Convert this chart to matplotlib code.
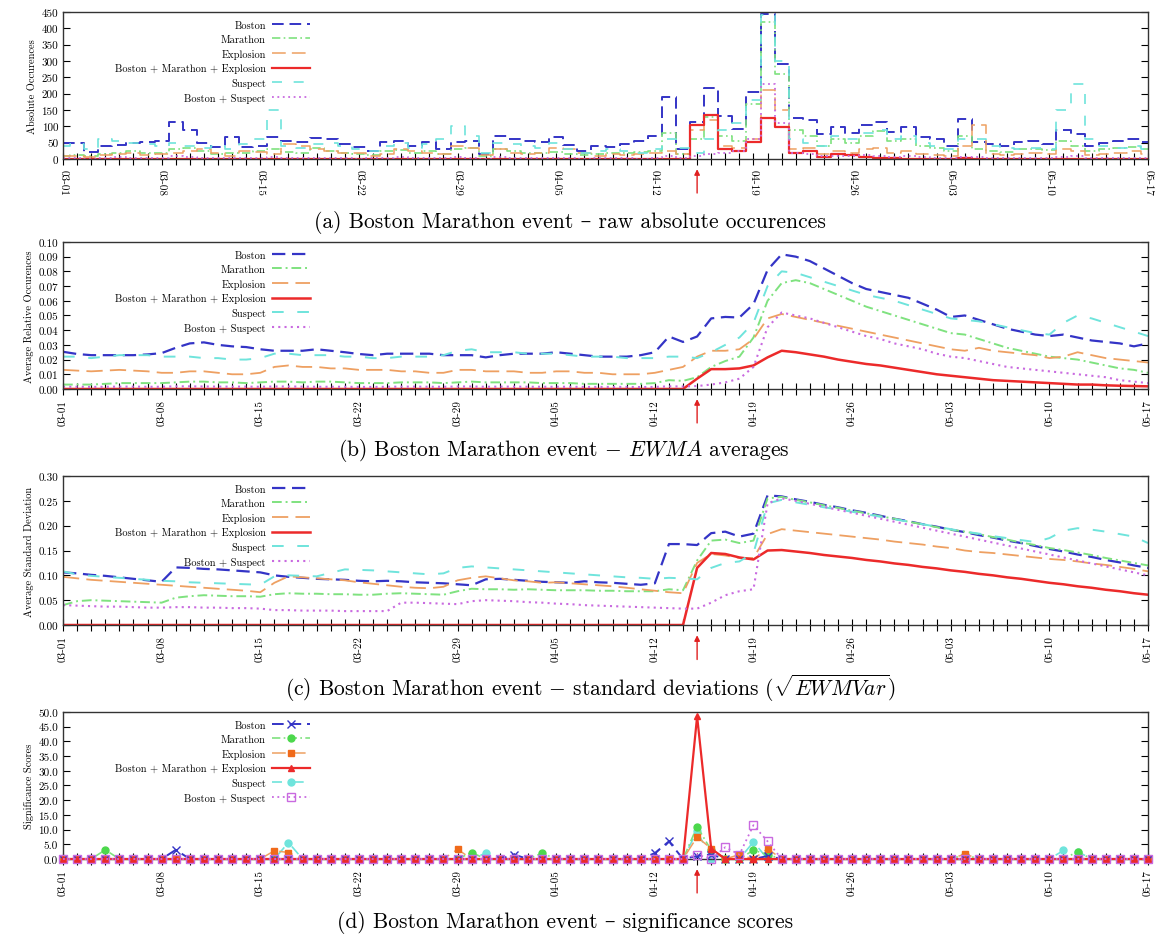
import matplotlib
matplotlib.use('Agg')
import matplotlib.pyplot as plt
import numpy as np
import pandas as pd

plt.rcParams['font.family'] = ['cmr10', 'DejaVu Serif']
plt.rcParams['mathtext.fontset'] = 'cm'
plt.rcParams['axes.formatter.use_mathtext'] = True

dates = pd.date_range('2013-03-01', '2013-05-17')
tick_labels = ['03-01', '03-08', '03-15', '03-22', '03-29', '04-05', '04-12',
               '04-19', '04-26', '05-03', '05-10', '05-17']
event_date = '04-15'

names = ['Boston', 'Marathon', 'Explosion', 'Boston + Marathon + Explosion',
         'Suspect', 'Boston + Suspect']

# (a) raw absolute occurences
boston_raw = [49, 49, 22, 39, 43, 49, 51, 56, 112, 89,
              49, 36, 66, 36, 41, 66, 56, 51, 63, 61,
              46, 36, 26, 51, 56, 41, 51, 31, 51, 56,
              15, 70, 61, 56, 53, 66, 44, 24, 41, 38,
              46, 56, 71, 191, 31, 112, 216, 132, 92, 204,
              445, 290, 127, 120, 76, 97, 81, 104, 114, 83,
              97, 68, 61, 41, 122, 51, 46, 41, 51, 56,
              46, 90, 76, 41, 48, 56, 61, 51]
marathon_raw = [10, 12, 8, 15, 20, 25, 18, 20, 30, 35,
                25, 15, 20, 18, 25, 30, 22, 20, 35, 25,
                20, 15, 12, 25, 28, 20, 25, 15, 30, 35,
                10, 30, 25, 20, 18, 22, 15, 12, 15, 18,
                20, 22, 25, 80, 15, 60, 130, 70, 55, 170,
                420, 260, 90, 70, 40, 60, 50, 70, 85, 55,
                60, 40, 35, 25, 70, 30, 25, 22, 30, 32,
                28, 55, 40, 25, 30, 35, 38, 30]
explosion_raw = [8, 10, 5, 12, 15, 20, 12, 15, 20, 25,
                 30, 20, 10, 25, 22, 15, 45, 40, 30, 25,
                 20, 18, 10, 15, 30, 25, 20, 15, 40, 35,
                 12, 30, 20, 15, 18, 35, 30, 20, 10, 15,
                 12, 15, 20, 25, 15, 90, 120, 40, 35, 60,
                 210, 150, 30, 35, 15, 25, 20, 30, 35, 20,
                 25, 15, 12, 10, 40, 105, 15, 12, 15, 18,
                 15, 30, 25, 12, 15, 20, 25, 15]
bme_raw = [0, 0, 0, 0, 0, 0, 0, 0, 0, 0,
           0, 0, 0, 0, 0, 0, 0, 0, 0, 0,
           0, 0, 0, 0, 0, 0, 0, 0, 0, 0,
           0, 0, 0, 0, 0, 0, 0, 0, 0, 0,
           0, 0, 0, 0, 0, 105, 135, 31, 25, 51,
           127, 97, 20, 25, 5, 15, 12, 5, 3, 2,
           1, 0, 0, 0, 2, 1, 0, 0, 0, 0,
           0, 1, 0, 0, 0, 0, 0, 0]
suspect_raw = [40, 45, 30, 60, 55, 50, 45, 40, 50, 40,
               35, 40, 30, 45, 60, 150, 40, 35, 45, 50,
               40, 30, 25, 40, 50, 35, 45, 60, 100, 70,
               20, 50, 45, 40, 35, 50, 30, 20, 25, 30,
               25, 20, 30, 60, 35, 20, 60, 90, 110, 180,
               440, 300, 60, 50, 40, 70, 60, 80, 90, 60,
               70, 50, 40, 30, 60, 60, 40, 35, 30, 35,
               30, 150, 230, 60, 40, 35, 40, 30]
bs_raw = [3, 2, 1, 4, 5, 3, 2, 4, 8, 6,
          3, 2, 4, 3, 2, 6, 4, 3, 2, 3,
          2, 1, 2, 4, 5, 3, 2, 3, 6, 4,
          1, 5, 3, 2, 2, 4, 3, 1, 2, 2,
          2, 1, 3, 8, 2, 10, 15, 20, 25, 60,
          230, 110, 20, 15, 8, 10, 8, 12, 10, 6,
          8, 5, 4, 3, 6, 5, 3, 3, 2, 3,
          2, 6, 8, 3, 2, 2, 3, 2]

# (b) EWMA averages
boston_avg = [.0253, .0238, .023, .023, .023, .023, .0235, .0244, .028, .031,
              .0317, .030, .029, .0285, .027, .026, .026, .026, .027, .026,
              .025, .0238, .023, .024, .024, .024, .024, .023, .023, .023,
              .0215, .023, .024, .024, .024, .025, .024, .023, .022, .022,
              .022, .023, .025, .0357, .032, .0357, .048, .049, .0486, .0577,
              .081, .0916, .090, .087, .082, .077, .072, .068, .066, .064,
              .062, .058, .054, .049, .050, .047, .044, .041, .039, .037,
              .036, .037, .035, .033, .032, .031, .029, .031]
marathon_avg = [.003, .003, .003, .0035, .004, .004, .004, .004, .0045, .005,
                .005, .0045, .0045, .004, .0045, .005, .005, .0045, .005, .005,
                .0045, .004, .004, .004, .0045, .0045, .0045, .004, .0045, .005,
                .0045, .0045, .0045, .0045, .004, .004, .004, .0035, .0035, .0035,
                .0035, .0035, .004, .006, .0055, .008, .015, .019, .022, .035,
                .060, .072, .074, .072, .068, .064, .060, .056, .053, .050,
                .047, .044, .041, .038, .037, .034, .031, .028, .026, .024,
                .022, .021, .020, .018, .016, .014, .013, .011]
explosion_avg = [.013, .0125, .012, .0125, .013, .0125, .012, .011, .011, .012,
                 .012, .011, .010, .010, .011, .015, .016, .015, .015, .014,
                 .014, .013, .013, .013, .012, .012, .011, .011, .013, .013,
                 .012, .012, .012, .011, .011, .012, .012, .011, .011, .010,
                 .010, .010, .011, .013, .015, .022, .026, .026, .027, .034,
                 .048, .051, .049, .047, .045, .043, .041, .039, .037, .035,
                 .033, .031, .029, .027, .026, .028, .026, .025, .024, .023,
                 .021, .022, .025, .023, .021, .020, .019, .018]
bme_avg = [0, 0, 0, 0, 0, 0, 0, 0, 0, 0,
           0, 0, 0, 0, 0, 0, 0, 0, 0, 0,
           0, 0, 0, 0, 0, 0, 0, 0, 0, 0,
           0, 0, 0, 0, 0, 0, 0, 0, 0, 0,
           0, 0, 0, 0, 0, .007, .0135, .0135, .014, .016,
           .0215, .026, .025, .0235, .022, .020, .0185, .017, .016, .0145,
           .013, .0115, .010, .009, .008, .007, .006, .0055, .005, .0045,
           .004, .0035, .003, .003, .0025, .0022, .002, .0018]
suspect_avg = [.022, .022, .021, .022, .023, .023, .023, .022, .022, .022,
               .021, .021, .020, .020, .021, .024, .024, .023, .023, .023,
               .022, .022, .021, .021, .022, .022, .022, .023, .026, .027,
               .025, .025, .025, .024, .024, .024, .023, .022, .022, .022,
               .021, .021, .021, .022, .022, .021, .025, .030, .035, .045,
               .070, .080, .079, .076, .073, .070, .067, .064, .062, .060,
               .057, .054, .051, .048, .047, .046, .044, .042, .040, .038,
               .037, .045, .050, .048, .045, .042, .039, .036]
bs_avg = [.0015, .0015, .0014, .0015, .0016, .0016, .0015, .0015, .0018, .0018,
          .0017, .0016, .0016, .0016, .0015, .0017, .0017, .0016, .0015, .0015,
          .0015, .0014, .0014, .0015, .0016, .0016, .0015, .0015, .0017, .0017,
          .0015, .0016, .0016, .0015, .0015, .0015, .0015, .0014, .0014, .0014,
          .0014, .0013, .0014, .0018, .0017, .0020, .0030, .0045, .0070, .015,
          .042, .052, .050, .048, .045, .042, .039, .036, .034, .031,
          .029, .027, .024, .022, .021, .019, .017, .015, .014, .013,
          .012, .011, .010, .009, .008, .006, .005, .004]

# (c) standard deviations
boston_std = [.106, .104, .101, .099, .096, .093, .090, .087, .116, .115,
              .113, .112, .110, .108, .106, .100, .097, .095, .093, .092,
              .091, .089, .088, .089, .088, .086, .085, .084, .082, .080,
              .092, .093, .091, .089, .087, .086, .085, .088, .086, .085,
              .083, .081, .084, .163, .163, .161, .185, .188, .178, .184,
              .261, .259, .253, .248, .242, .237, .231, .226, .220, .214,
              .209, .203, .198, .192, .187, .181, .176, .170, .165, .159,
              .153, .148, .142, .137, .131, .126, .120, .115]
marathon_std = [.040, .048, .050, .049, .048, .047, .046, .045, .055, .058,
                .060, .059, .058, .058, .057, .062, .064, .063, .063, .062,
                .062, .061, .061, .063, .064, .063, .062, .061, .068, .073,
                .072, .072, .071, .072, .071, .070, .070, .070, .069, .069,
                .068, .068, .068, .072, .070, .130, .170, .172, .165, .170,
                .255, .258, .252, .247, .241, .236, .230, .225, .219, .214,
                .208, .203, .197, .192, .188, .183, .177, .172, .166, .161,
                .155, .151, .146, .141, .135, .130, .125, .120]
explosion_std = [.097, .094, .091, .089, .087, .085, .083, .081, .079, .077,
                 .075, .073, .071, .069, .066, .085, .098, .096, .094, .092,
                 .090, .086, .083, .080, .077, .075, .074, .077, .090, .095,
                 .098, .094, .090, .088, .085, .086, .084, .082, .080, .078,
                 .075, .072, .069, .066, .064, .125, .143, .140, .135, .135,
                 .183, .193, .190, .187, .184, .181, .178, .175, .172, .168,
                 .165, .162, .158, .155, .150, .147, .145, .142, .139, .136,
                 .133, .131, .128, .124, .121, .117, .113, .108]
bme_std = [0, 0, 0, 0, 0, 0, 0, 0, 0, 0,
           0, 0, 0, 0, 0, 0, 0, 0, 0, 0,
           0, 0, 0, 0, 0, 0, 0, 0, 0, 0,
           0, 0, 0, 0, 0, 0, 0, 0, 0, 0,
           0, 0, 0, 0, 0, .115, .145, .143, .136, .132,
           .150, .151, .148, .145, .141, .138, .135, .131, .128, .124,
           .121, .117, .114, .110, .107, .103, .100, .096, .093, .089,
           .085, .082, .078, .075, .071, .068, .064, .061]
suspect_std = [.108, .102, .099, .097, .095, .093, .091, .089, .088, .086,
               .085, .084, .083, .082, .081, .098, .100, .099, .098, .105,
               .112, .111, .110, .108, .106, .104, .102, .104, .115, .118,
               .116, .114, .112, .110, .108, .106, .104, .102, .100, .098,
               .096, .095, .093, .095, .094, .092, .115, .125, .128, .145,
               .245, .252, .247, .242, .237, .233, .228, .223, .218, .213,
               .208, .203, .198, .193, .188, .184, .179, .175, .171, .167,
               .175, .190, .195, .192, .188, .183, .178, .165]
bs_std = [.040, .039, .038, .037, .037, .036, .035, .035, .036, .036,
          .035, .035, .034, .034, .033, .030, .030, .029, .029, .029,
          .028, .028, .028, .028, .045, .045, .044, .043, .042, .048,
          .050, .049, .048, .046, .045, .043, .042, .040, .039, .038,
          .037, .036, .035, .034, .033, .033, .045, .060, .068, .072,
          .245, .255, .250, .244, .238, .232, .226, .220, .214, .208,
          .202, .196, .190, .184, .178, .172, .166, .160, .154, .148,
          .142, .136, .130, .124, .118, .112, .106, .100]

# (d) significance scores
boston_sig = [0, 0, 0, 0, 0, 0, 0, 0, 3.1, 0,
              0, 0, 0, 0, 0, 0, 0, 0, 0, 0,
              0, 0, 0, 0, 0, 0, 0, 0, 0, 0,
              0, 0, 1.5, 0, 0, 0, 0, 0, 0, 0,
              0, 0, 2.0, 6.0, 0, 1.0, 1.5, 0, 0, 0,
              1.0, 0, 0, 0, 0, 0, 0, 0, 0, 0,
              0, 0, 0, 0, 0, 0, 0, 0, 0, 0,
              0, 0, 0, 0, 0, 0, 0, 0]
marathon_sig = [0, 0, 0, 3.1, 0, 0, 0, 0, 0, 0,
                0, 0, 0, 0, 0, 0, 0, 0, 0, 0,
                0, 0, 0, 0, 0, 0, 0, 0, 0, 2.2,
                0, 0, 0, 0, 2.0, 0, 0, 0, 0, 0,
                0, 0, 0, 0, 0, 11.0, 3.0, 0, 0, 3.0,
                1.5, 0, 0, 0, 0, 0, 0, 0, 0, 0,
                0, 0, 0, 0, 1.5, 0, 0, 0, 0, 0,
                0, 0, 2.5, 0, 0, 0, 0, 0]
explosion_sig = [0, 0, 0, 0, 0, 0, 0, 0, 0, 0,
                 0, 0, 0, 0, 0, 2.8, 2.2, 0, 0, 0,
                 0, 0, 0, 0, 0, 0, 0, 0, 3.3, 0,
                 0, 0, 0, 0, 0, 0, 0, 0, 0, 0,
                 0, 0, 0, 0, 0, 7.5, 3.5, 0, 1.5, 0,
                 3.5, 0, 0, 0, 0, 0, 0, 0, 0, 0,
                 0, 0, 0, 0, 1.7, 0, 0, 0, 0, 0,
                 0, 0, 0, 0, 0, 0, 0, 0]
bme_sig = [0, 0, 0, 0, 0, 0, 0, 0, 0, 0,
           0, 0, 0, 0, 0, 0, 0, 0, 0, 0,
           0, 0, 0, 0, 0, 0, 0, 0, 0, 0,
           0, 0, 0, 0, 0, 0, 0, 0, 0, 0,
           0, 0, 0, 0, 0, 48.5, 3.5, 0, 0, 0,
           0, 0, 0, 0, 0, 0, 0, 0, 0, 0,
           0, 0, 0, 0, 0, 0, 0, 0, 0, 0,
           0, 0, 0, 0, 0, 0, 0, 0]
suspect_sig = [0, 0, 0, 0, 0, 0, 0, 0, 0, 0,
               0, 0, 0, 0, 0, 0, 5.6, 0, 0, 0,
               0, 0, 0, 0, 0, 0, 0, 0, 0, 0,
               2.0, 0, 0, 0, 0, 0, 0, 0, 0, 0,
               0, 0, 0, 0, 0, 9.5, 0, 0, 0, 5.8,
               0, 0, 0, 0, 0, 0, 0, 0, 0, 0,
               0, 0, 0, 0, 0, 0, 0, 0, 0, 0,
               0, 2.9, 2.5, 0, 0, 0, 0, 0]
bs_sig = [0, 0, 0, 0, 0, 0, 0, 0, 0, 0,
          0, 0, 0, 0, 0, 0, 0, 0, 0, 0,
          0, 0, 0, 0, 0, 0, 0, 0, 0, 0,
          0, 0, 0, 0, 0, 0, 0, 0, 0, 0,
          0, 0, 0, 0, 0, 1.5, 0, 4.0, 1.5, 11.5,
          6.0, 0, 0, 0, 0, 0, 0, 0, 0, 0,
          0, 0, 0, 0, 0, 0, 0, 0, 0, 0,
          0, 0, 0, 0, 0, 0, 0, 0]

colors = ['#3434c6', '#7fe27f', '#eea062', '#ec2a2a', '#6fe4dc', '#c96ae0']
dashes = [(6, 3), (5, 2, 1, 2), (9, 4), (None, None), (6, 7), (1, 2)]
widths = [1.4, 1.2, 1.1, 1.6, 1.2, 1.3]
markers = ['x', 'o', 's', '^', 'o', 's']
msizes = [6, 5, 5, 4, 5, 6]
mfaces = ['#3434c6', '#4cd84c', '#f06a1a', '#ec2a2a', '#6fe4dc', 'none']
sig_order = [6, 3, 4, 7, 2, 8]


def setup_axis(ax, ymax, ystep, fmt, ylabel, labelrot):
    days = np.arange(len(dates))
    lbls = dates.strftime('%m-%d')
    ax.set_xlim(0, len(dates) - 1)
    ax.set_xticks(days)
    ax.set_xticklabels([l if l in tick_labels else '' for l in lbls],
                       rotation=labelrot, fontsize=8)
    ax.set_ylim(0, ymax)
    yt = np.arange(0, ymax + ystep / 2, ystep)
    ax.set_yticks(yt)
    ax.set_yticklabels([fmt % v for v in yt], fontsize=8)
    ax.tick_params(axis='x', direction='inout', length=8, width=0.8, top=False)
    ax.tick_params(axis='y', direction='in', length=5, width=0.8, right=True)
    ax.set_ylabel(ylabel, fontsize=7.5, labelpad=3)
    for s in ax.spines.values():
        s.set_linewidth(1.0)
        s.set_color('#333333')
    ev = list(lbls).index(event_date)
    ax.annotate('', xy=(ev, -0.05), xycoords=ax.get_xaxis_transform(),
                xytext=(ev, -0.25), textcoords=ax.get_xaxis_transform(),
                arrowprops=dict(arrowstyle='-|>', color='#e02020', lw=1.0,
                                mutation_scale=8),
                annotation_clip=False)
    leg = ax.legend(loc='upper right', bbox_to_anchor=(0.235, 1.0), frameon=False,
                    markerfirst=False, fontsize=7.5, handlelength=3.6,
                    handletextpad=0.6, labelspacing=0.45, borderpad=0.3,
                    numpoints=1)
    return leg


fig = plt.figure(figsize=(11.58, 9.37), dpi=100)
left, width = 0.0544, 0.937
ax_a = fig.add_axes([left, 0.8292, width, 0.1569])
ax_b = fig.add_axes([left, 0.5838, width, 0.1569])
ax_c = fig.add_axes([left, 0.3319, width, 0.1590])
ax_d = fig.add_axes([left, 0.0822, width, 0.1569])
x = np.arange(len(dates))

raw = [boston_raw, marathon_raw, explosion_raw, bme_raw, suspect_raw, bs_raw]
for i, vals in enumerate(raw):
    ax_a.step(x, vals, where='mid', color=colors[i], lw=widths[i],
              dashes=dashes[i], label=names[i])
setup_axis(ax_a, 450, 50, '%d', 'Absolute Occurences', -90)

avg = [boston_avg, marathon_avg, explosion_avg, bme_avg, suspect_avg, bs_avg]
for i, vals in enumerate(avg):
    ax_b.plot(x, vals, color=colors[i], lw=widths[i] + 0.2, dashes=dashes[i],
              label=names[i])
setup_axis(ax_b, 0.10, 0.01, '%.2f', 'Average Relative Occurences', 90)

std = [boston_std, marathon_std, explosion_std, bme_std, suspect_std, bs_std]
for i, vals in enumerate(std):
    ax_c.plot(x, vals, color=colors[i], lw=widths[i] + 0.2, dashes=dashes[i],
              label=names[i])
setup_axis(ax_c, 0.30, 0.05, '%.2f', 'Average Standard Deviation', 90)

sig = [boston_sig, marathon_sig, explosion_sig, bme_sig, suspect_sig, bs_sig]
for i, vals in enumerate(sig):
    ax_d.plot(x, vals, color=colors[i], lw=widths[i], dashes=dashes[i],
              marker=markers[i], ms=msizes[i], mfc=mfaces[i],
              mec=mfaces[i] if mfaces[i] != 'none' else colors[i],
              mew=1.0, label=names[i], clip_on=False, zorder=sig_order[i])
setup_axis(ax_d, 50, 5, '%.1f', 'Significance Scores', 90)

cap = 15.5
fig.text(0.492, 0.763, '(a) Boston Marathon event \u2013 raw absolute occurences',
         ha='center', va='center', fontsize=cap)
fig.text(0.487, 0.519, '(b) Boston Marathon event $-$ $EWMA$ averages',
         ha='center', va='center', fontsize=cap)
fig.text(0.51, 0.265, '(c) Boston Marathon event $-$ standard deviations '
         r'($\sqrt{EWMVar}$)', ha='center', va='center', fontsize=cap)
fig.text(0.488, 0.016, '(d) Boston Marathon event \u2013 significance scores',
         ha='center', va='center', fontsize=cap)

fig.savefig('out.png', dpi=100)
